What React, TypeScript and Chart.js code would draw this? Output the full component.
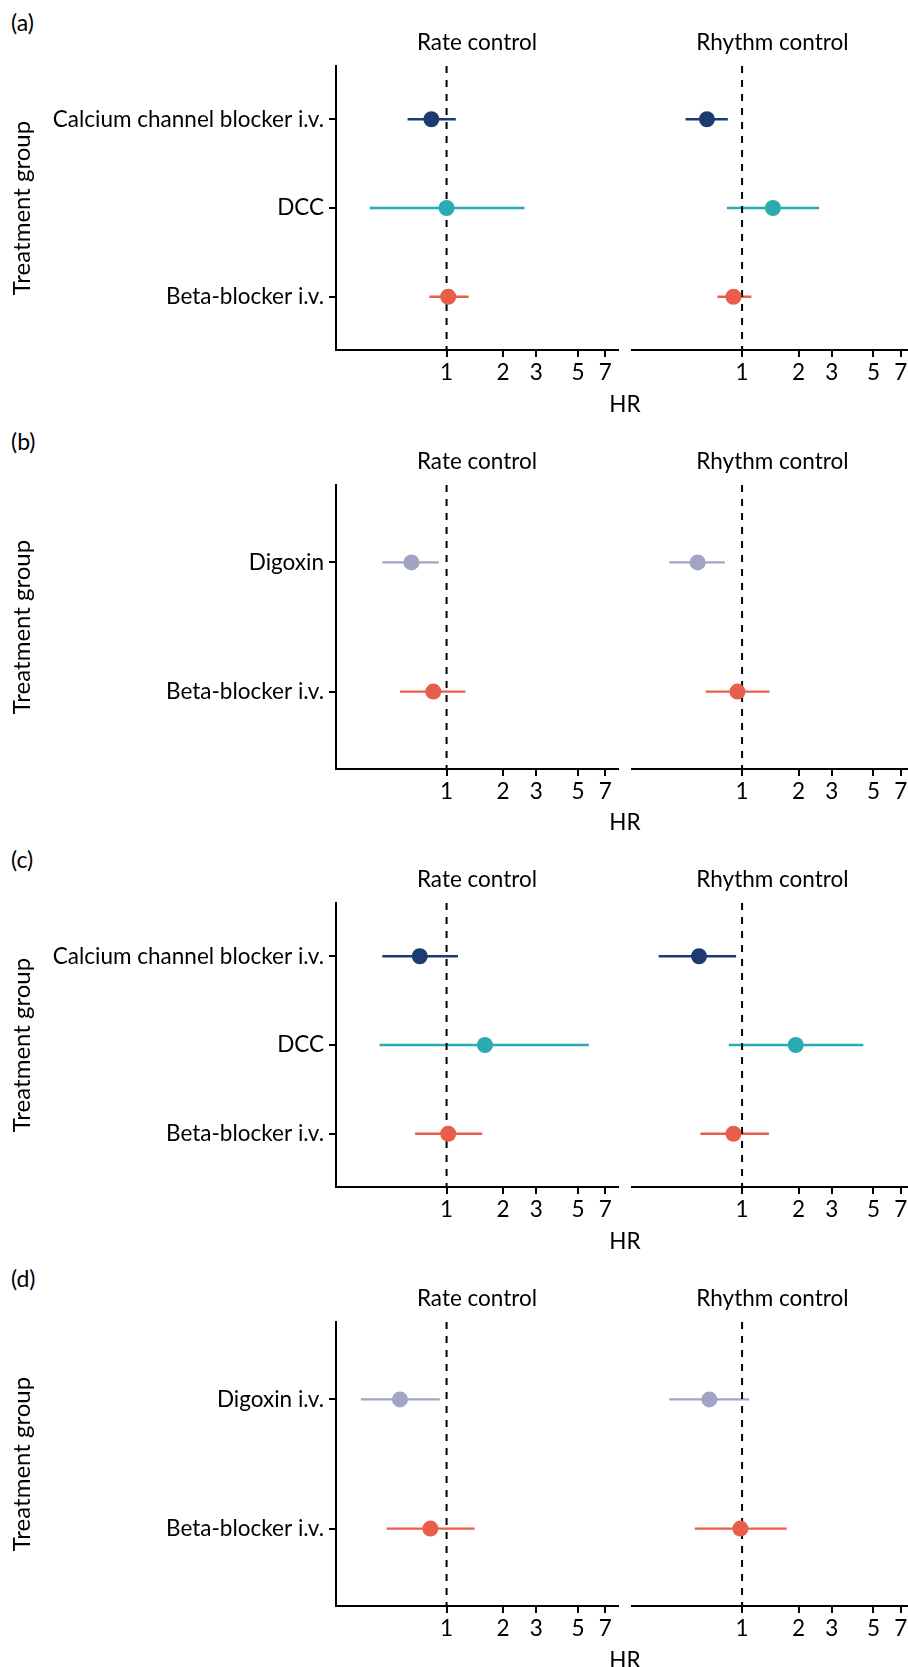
import React, { useEffect, useRef } from "react";
import { Chart, registerables } from "chart.js";

Chart.register(...registerables);
Chart.defaults.font.family = "Lato, 'Noto Sans', sans-serif";
Chart.defaults.color = "#000";

// ---------- data ----------
const panelLetters = ["(a)", "(b)", "(c)", "(d)"];
const facetTitles = ["Rate control", "Rhythm control"];
const xAxisTitle = "HR";
const yAxisTitle = "Treatment group";
const xTickValues = [1, 2, 3, 5, 7];
const xMin = 0.258;
const xMax = 8.17;

const NAVY = "#1c3b70";
const TEAL = "#2aabb1";
const CORAL = "#e85e4b";
const LAVENDER = "#a3a3c6";

// (a)
const catsA = ["Calcium channel blocker i.v.", "DCC", "Beta-blocker i.v."];
const colorsA = [NAVY, TEAL, CORAL];
const rateA_hr = [0.83, 1.0, 1.02];
const rateA_lo = [0.62, 0.39, 0.81];
const rateA_hi = [1.12, 2.6, 1.31];
const rhythmA_hr = [0.65, 1.46, 0.9];
const rhythmA_lo = [0.5, 0.83, 0.74];
const rhythmA_hi = [0.84, 2.57, 1.12];

// (b)
const catsB = ["Digoxin", "Beta-blocker i.v."];
const colorsB = [LAVENDER, CORAL];
const rateB_hr = [0.65, 0.85];
const rateB_lo = [0.455, 0.565];
const rateB_hi = [0.91, 1.26];
const rhythmB_hr = [0.58, 0.945];
const rhythmB_lo = [0.41, 0.64];
const rhythmB_hi = [0.81, 1.4];

// (c)
const catsC = ["Calcium channel blocker i.v.", "DCC", "Beta-blocker i.v."];
const colorsC = [NAVY, TEAL, CORAL];
const rateC_hr = [0.72, 1.6, 1.02];
const rateC_lo = [0.455, 0.44, 0.68];
const rateC_hi = [1.15, 5.72, 1.55];
const rhythmC_hr = [0.59, 1.93, 0.9];
const rhythmC_lo = [0.36, 0.85, 0.6];
const rhythmC_hi = [0.93, 4.42, 1.39];

// (d)
const catsD = ["Digoxin i.v.", "Beta-blocker i.v."];
const colorsD = [LAVENDER, CORAL];
const rateD_hr = [0.565, 0.82];
const rateD_lo = [0.35, 0.48];
const rateD_hi = [0.92, 1.41];
const rhythmD_hr = [0.67, 0.98];
const rhythmD_lo = [0.41, 0.56];
const rhythmD_hi = [1.09, 1.73];

const panels = [
  { cats: catsA, colors: colorsA, facets: [[rateA_hr, rateA_lo, rateA_hi], [rhythmA_hr, rhythmA_lo, rhythmA_hi]] },
  { cats: catsB, colors: colorsB, facets: [[rateB_hr, rateB_lo, rateB_hi], [rhythmB_hr, rhythmB_lo, rhythmB_hi]] },
  { cats: catsC, colors: colorsC, facets: [[rateC_hr, rateC_lo, rateC_hi], [rhythmC_hr, rhythmC_lo, rhythmC_hi]] },
  { cats: catsD, colors: colorsD, facets: [[rateD_hr, rateD_lo, rateD_hi], [rhythmD_hr, rhythmD_lo, rhythmD_hi]] },
];

// ---------- layout ----------
const BLOCK_H = 418;
const blockTops = [0, 418.7, 837.3, 1256];
const FONT_SIZE = 22.5;
const YTITLE_SIZE = 24;

type FacetProps = {
  cats: string[];
  colors: string[];
  hr: number[];
  lo: number[];
  hi: number[];
  title: string;
  isLeft: boolean;
};

function Facet({ cats, colors, hr, lo, hi, title, isLeft }: FacetProps) {
  const ref = useRef<HTMLCanvasElement>(null);
  const width = isLeft ? 620 : 294;
  useEffect(() => {
    const n = cats.length;
    const yMin = 0.4;
    const yMax = n + 0.6;
    const datasets: any[] = [];
    cats.forEach((_, i) => {
      datasets.push({
        type: "scatter",
        data: [{ x: hr[i], y: i + 1 }],
        backgroundColor: colors[i],
        borderColor: colors[i],
        borderWidth: 0,
        pointRadius: 8,
        pointHoverRadius: 8,
        order: 0,
      });
    });
    datasets.push({
      type: "line",
      data: [
        { x: 1, y: yMin },
        { x: 1, y: yMax },
      ],
      borderColor: "#000",
      borderWidth: 2,
      borderDash: [7, 7],
      pointRadius: 0,
      order: 1,
    });
    cats.forEach((_, i) => {
      datasets.push({
        type: "line",
        data: [
          { x: lo[i], y: i + 1 },
          { x: hi[i], y: i + 1 },
        ],
        borderColor: colors[i],
        borderWidth: 2.3,
        pointRadius: 0,
        order: 2,
      });
    });

    const chart = new Chart(ref.current as HTMLCanvasElement, {
      type: "scatter",
      data: { datasets },
      options: {
        responsive: false,
        animation: false,
        devicePixelRatio: 1,
        events: [],
        layout: {
          autoPadding: false,
          padding: isLeft
            ? { left: 0, right: 2, top: 0, bottom: 0 }
            : { left: 11.5, right: 0.5, top: 0, bottom: 0 },
        },
        plugins: {
          legend: { display: false },
          tooltip: { enabled: false },
          title: {
            display: true,
            text: title,
            fullSize: false,
            color: "#000",
            font: { size: FONT_SIZE, weight: "normal" },
            padding: { top: 29.2, bottom: 9.8 },
          },
        },
        scales: {
          x: {
            type: "logarithmic",
            min: xMin,
            max: xMax,
            afterBuildTicks: (s: any) => {
              s.ticks = xTickValues.map((v) => ({ value: v }));
            },
            afterFit: (s: any) => {
              s.height = BLOCK_H - 350;
              s.paddingLeft = 0;
              s.paddingRight = 0;
            },
            ticks: {
              autoSkip: false,
              maxRotation: 0,
              minRotation: 0,
              color: "#000",
              padding: 2.5,
              font: { size: FONT_SIZE },
              callback: (v: any) => String(v),
            },
            grid: {
              drawOnChartArea: false,
              drawTicks: true,
              tickLength: 7,
              color: "#000",
              lineWidth: 2,
            },
            border: { display: true, color: "#000", width: 2 },
          },
          y: {
            type: "linear",
            reverse: true,
            min: yMin,
            max: yMax,
            display: isLeft,
            afterBuildTicks: (s: any) => {
              s.ticks = cats.map((_, i) => ({ value: i + 1 }));
            },
            afterFit: (s: any) => {
              if (isLeft) s.width = 336;
              s.paddingTop = 0;
              s.paddingBottom = 0;
            },
            ticks: {
              autoSkip: false,
              color: "#000",
              padding: 5,
              font: { size: FONT_SIZE },
              callback: (_v: any, idx: number) => cats[idx],
            },
            grid: {
              drawOnChartArea: false,
              drawTicks: true,
              tickLength: 7,
              color: "#000",
              lineWidth: 2,
            },
            border: { display: true, color: "#000", width: 2 },
            title: {
              display: true,
              text: yAxisTitle,
              color: "#000",
              font: { size: YTITLE_SIZE },
              padding: { top: 8.3, bottom: 0 },
            },
          },
        },
      } as any,
    });
    return () => chart.destroy();
  }, []);
  return (
    <canvas
      ref={ref}
      width={width}
      height={BLOCK_H}
      style={{ position: "absolute", left: isLeft ? 0 : 620, top: 0, width, height: BLOCK_H, display: "block" }}
    />
  );
}

export default function App() {
  return (
    <div
      style={{
        position: "absolute",
        left: 0,
        top: 0,
        width: 908,
        height: 1667,
        overflow: "hidden",
        background: "#fff",
        fontFamily: "Lato, 'Noto Sans', sans-serif",
        color: "#000",
      }}
    >
      {panels.map((p, k) => (
        <div key={k} style={{ position: "absolute", left: 0, top: blockTops[k], width: 908, height: BLOCK_H }}>
          <div style={{ position: "absolute", left: 11, top: 8, fontSize: 23, lineHeight: "28px" }}>
            {panelLetters[k]}
          </div>
          {p.facets.map((f, j) => (
            <Facet
              key={j}
              cats={p.cats}
              colors={p.colors}
              hr={f[0]}
              lo={f[1]}
              hi={f[2]}
              title={facetTitles[j]}
              isLeft={j === 0}
            />
          ))}
          <div
            style={{
              position: "absolute",
              left: 625,
              top: 389.5,
              transform: "translateX(-50%)",
              fontSize: FONT_SIZE,
              lineHeight: "27px",
              whiteSpace: "nowrap",
            }}
          >
            {xAxisTitle}
          </div>
        </div>
      ))}
    </div>
  );
}
